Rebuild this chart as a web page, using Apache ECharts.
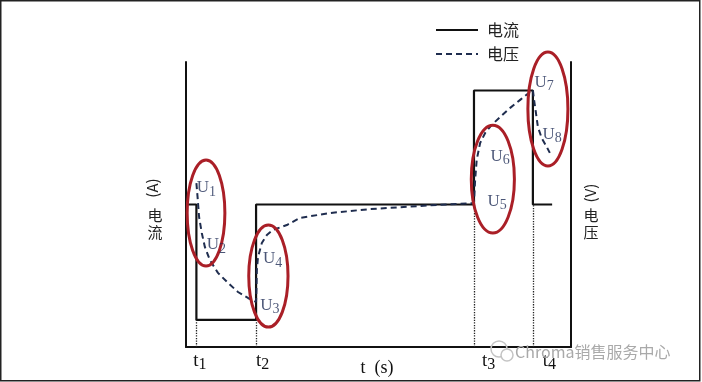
<!DOCTYPE html>
<html><head><meta charset="utf-8">
<script src="https://cdn.jsdelivr.net/npm/echarts@6/dist/echarts.min.js"></script>
<style>html,body{margin:0;padding:0;background:#fff}#c{width:702px;height:382px}</style>
</head><body><div id="c"></div>
<script>
// time marks t1..t4 (arbitrary time units) and tick labels
const tMarks = [2.7, 18.2, 74.8, 90.1];
const tNames = ['1', '2', '3', '4'];
const tLabelX = [3.6, 19.9, 78.6, 94.4];
const dottedTop = [9.5, 9.5, 50, 50];

// current (solid step line)
const currentX = [0, 2.7, 2.7, 18.2, 18.2, 74.8, 74.8, 90.1, 90.1, 95.1];
const currentA = [50, 50, 9.5, 9.5, 50, 50, 90, 90, 50, 50];

// voltage (dashed curve)
const voltageX = [2.7, 3.0, 3.4, 4.1, 4.9, 6.2, 8.3, 10.9, 13.5, 16.1, 18.2,
  18.3, 18.4, 18.7, 19.7, 21.0, 22.6, 26.2, 29.6, 37.4, 47.8, 60.8, 74.8,
  75.1, 75.5, 76.4, 77.7, 79.4, 81.6, 84.2, 86.8, 89.4, 90.1,
  90.4, 90.9, 91.4, 92.4, 93.7, 94.5];
const voltageV = [57.5, 52.7, 45.6, 40.0, 35.1, 30.5, 26.0, 22.5, 19.3, 17.2, 15.8,
  20.0, 27.0, 31.6, 36.5, 39.3, 41.1, 42.8, 45.3, 47.0, 48.4, 49.5, 50.5,
  58.6, 65.6, 71.6, 75.1, 77.9, 80.7, 83.9, 86.7, 89.5, 90.2,
  86.7, 82.1, 77.2, 73.3, 70.2, 68.1];

// U point annotations
const uNames = ['1', '2', '3', '4', '5', '6', '7', '8'];
const uX = [5.3, 7.9, 21.8, 22.5, 80.8, 81.6, 93.0, 95.1];
const uY = [55.8, 35.8, 14.7, 30.9, 51.1, 66.8, 92.8, 74.7];

// red ring annotations (centre and semi-axes in data units)
const ringX = [5.2, 21.4, 79.7, 94.0];
const ringY = [47.0, 24.9, 58.9, 83.5];
const ringW = [4.9, 5.1, 5.6, 5.2];
const ringH = [18.6, 17.9, 18.9, 20.0];

const chart = echarts.init(document.getElementById('c'), null, {renderer: 'canvas'});
const SERIF = '"Liberation Serif", "DejaVu Serif", serif';
const CJK = '"Noto Sans CJK SC", "Noto Sans", sans-serif';
const NAVY = '#1f2d4f';
const ULAB = '#1e2c55';

const option = {
  animation: false,
  backgroundColor: '#fff',
  grid: {left: 186, right: 131, top: 62, bottom: 35, containLabel: false},
  legend: {
    data: ['电流', '电压'], orient: 'vertical', left: 430, top: 17,
    itemWidth: 42, itemHeight: 14, itemGap: 8,
    itemStyle: {opacity: 0},
    textStyle: {fontSize: 16, color: '#222', fontFamily: CJK, padding: [0, 0, 0, 4]}
  },
  xAxis: {
    type: 'value', min: 0, max: 100,
    axisLine: {show: true, onZero: false, lineStyle: {color: '#111', width: 2}},
    axisTick: {show: false}, axisLabel: {show: false}, splitLine: {show: false}
  },
  yAxis: [
    {type: 'value', min: 0, max: 100, position: 'left',
      axisLine: {show: true, onZero: false, lineStyle: {color: '#111', width: 2}},
      axisTick: {show: false}, axisLabel: {show: false}, splitLine: {show: false}},
    {type: 'value', min: 0, max: 100, position: 'right',
      axisLine: {show: true, onZero: false, lineStyle: {color: '#111', width: 2}},
      axisTick: {show: false}, axisLabel: {show: false}, splitLine: {show: false}}
  ],
  series: [
    {
      name: '电流', type: 'line', yAxisIndex: 0, showSymbol: false, symbol: 'none',
      data: currentX.map((x, i) => [x, currentA[i]]),
      lineStyle: {color: '#111', width: 2.2}, itemStyle: {color: '#111'}, z: 3,
      markLine: {
        silent: true, symbol: 'none', label: {show: false},
        lineStyle: {type: 'dotted', color: '#222', width: 1.3},
        data: tMarks.map((t, i) => [{coord: [t, 0]}, {coord: [t, dottedTop[i]]}])
      }
    },
    {
      name: '电压', type: 'line', yAxisIndex: 1, showSymbol: false, symbol: 'none',
      data: voltageX.map((x, i) => [x, voltageV[i]]),
      lineStyle: {color: NAVY, width: 2, type: [6, 4]}, itemStyle: {color: NAVY}, z: 4
    },
    {
      name: 'rings', type: 'custom', clip: false, z: 6,
      data: ringX.map((x, i) => [x, ringY[i], ringW[i], ringH[i]]),
      renderItem: (params, api) => {
        const c = api.coord([api.value(0), api.value(1)]);
        const s = api.size([api.value(2), api.value(3)]);
        return {type: 'ellipse', shape: {cx: c[0], cy: c[1], rx: s[0], ry: s[1]},
          style: {fill: 'none', stroke: '#aa1f27', lineWidth: 3}};
      }
    },
    {
      name: 'U', type: 'scatter', symbolSize: 1, itemStyle: {color: 'rgba(0,0,0,0)'}, z: 7,
      data: uX.map((x, i) => [x, uY[i], uNames[i]]),
      label: {
        show: true, position: 'inside',
        formatter: p => '{u|U}{s|' + p.value[2] + '}',
        rich: {
          u: {fontSize: 17, fontFamily: SERIF, color: ULAB},
          s: {fontSize: 14, fontFamily: SERIF, color: ULAB, padding: [8, 0, 0, 0]}
        }
      }
    }
  ]
};
chart.setOption(option);

const g = [];
tLabelX.forEach((x, i) => {
  const px = chart.convertToPixel({xAxisIndex: 0}, x);
  g.push({type: 'text', x: px, y: 361, z: 20, style: {
    text: '{t|t}{s|' + tNames[i] + '}', align: 'center', verticalAlign: 'middle',
    rich: {t: {fontSize: 19, fontFamily: SERIF, fill: '#111'},
           s: {fontSize: 16, fontFamily: SERIF, fill: '#111', padding: [8, 0, 0, 0]}}
  }});
});
g.push({type: 'text', x: 377, y: 368, z: 20, style: {text: 't  (s)', align: 'center', verticalAlign: 'middle',
  fontSize: 18, fontFamily: SERIF, fill: '#111'}});
// left axis name
g.push({type: 'text', x: 152, y: 188, rotation: Math.PI / 2, z: 20, style: {text: '(A)', align: 'center',
  verticalAlign: 'middle', fontSize: 15, fontFamily: CJK, fill: '#222'}});
g.push({type: 'text', x: 155, y: 224, z: 20, style: {text: '电\n流', align: 'center',
  verticalAlign: 'middle', fontSize: 15, lineHeight: 17, fontFamily: CJK, fill: '#222'}});
// right axis name
g.push({type: 'text', x: 590, y: 193, rotation: Math.PI / 2, z: 20, style: {text: '(V)', align: 'center',
  verticalAlign: 'middle', fontSize: 15, fontFamily: CJK, fill: '#222'}});
g.push({type: 'text', x: 591, y: 224, z: 20, style: {text: '电\n压', align: 'center',
  verticalAlign: 'middle', fontSize: 15, lineHeight: 17, fontFamily: CJK, fill: '#222'}});
// watermark
g.push({type: 'circle', shape: {cx: 499, cy: 349, r: 8}, z: 19, style: {fill: 'none', stroke: '#c4c4c4', lineWidth: 1.5}});
g.push({type: 'circle', shape: {cx: 507, cy: 355, r: 6}, z: 19, style: {fill: '#fff', stroke: '#c4c4c4', lineWidth: 1.5}});
g.push({type: 'text', x: 515, y: 352, z: 20, style: {text: 'Chroma销售服务中心', align: 'left',
  verticalAlign: 'middle', fontSize: 16, fontFamily: CJK, fill: '#a9a9a9'}});
// picture frame
g.push({type: 'rect', shape: {x: 0.75, y: 0.75, width: 699, height: 380}, z: 30,
  style: {fill: 'none', stroke: '#222', lineWidth: 1.5}});
chart.setOption({graphic: g});
</script>
</body></html>
